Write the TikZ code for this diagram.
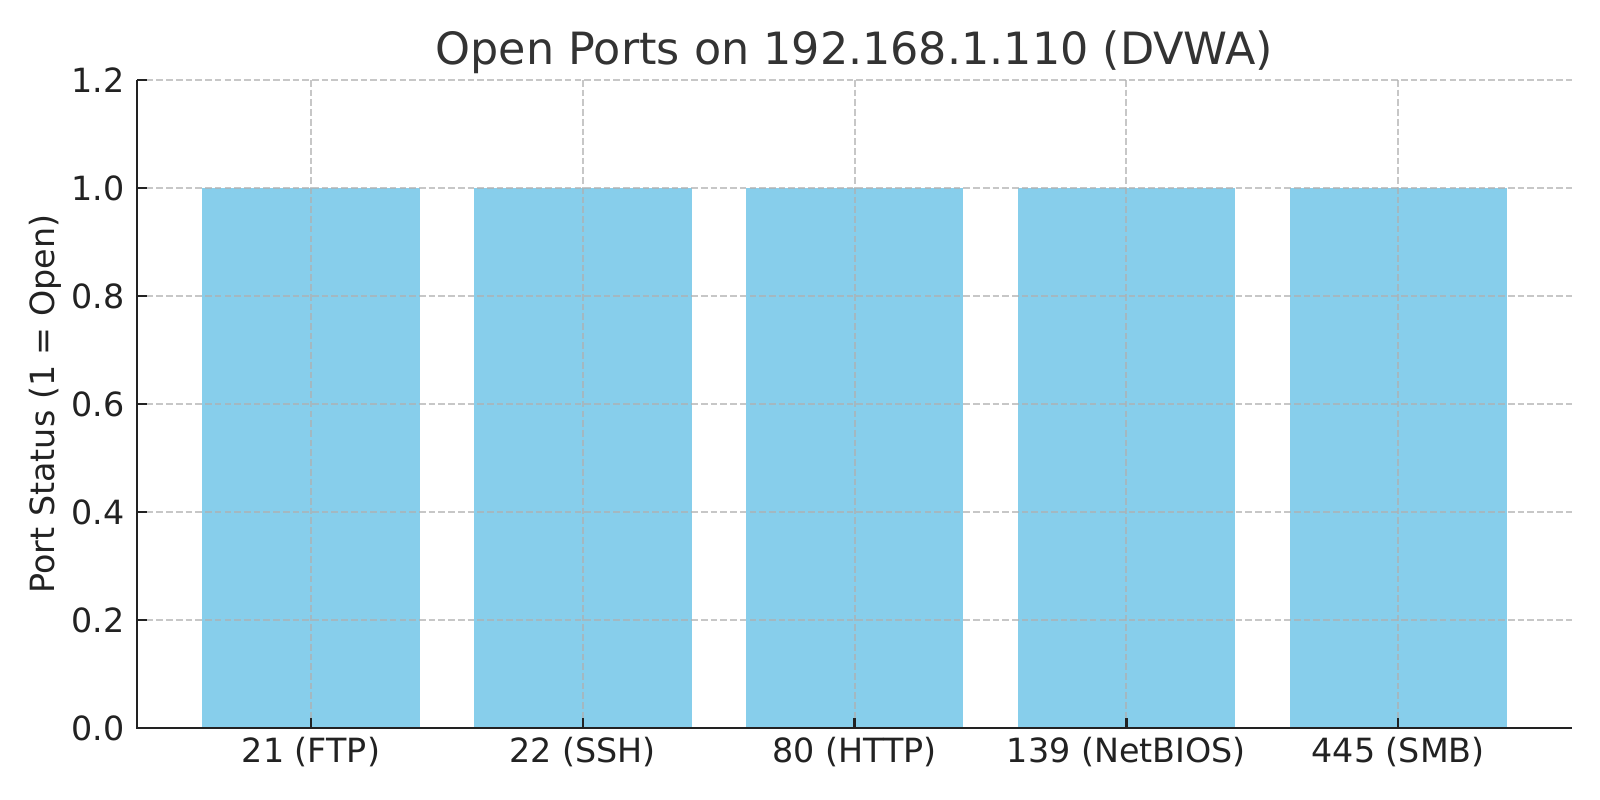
\documentclass[tikz,border=0pt]{standalone}
\usepackage{fontspec}
\setmainfont{DejaVu Sans}
\definecolor{barc}{HTML}{87CEEB}
\definecolor{ink}{HTML}{222222}
\definecolor{titlec}{HTML}{333333}
\definecolor{gridc}{HTML}{B0B0B0}
\begin{document}
\begin{tikzpicture}[x=0.36pt,y=-0.36pt,
  gridline/.style={gridc, opacity=0.7, line width=0.7pt, dash pattern=on 2.4pt off 1.1pt},
  spine/.style={ink, line width=1pt},
  tickmark/.style={ink, line width=0.8pt},
  ticklab/.style={text=ink, font=\fontsize{12}{14}\selectfont, inner sep=0pt},
  titlelab/.style={text=titlec, font=\fontsize{16}{19}\selectfont, inner sep=0pt},
  barrect/.style={fill=barc, draw=none}]
\fill[white] (0,0) rectangle (1600,800);
\useasboundingbox (0,0) rectangle (1600,800);
% bars
\foreach \c in {311,582.8,854.6,1126.4,1398.2}{
  \fill[barc] (\c-108.7,188) rectangle (\c+108.7,728);
}
% grid
\foreach \y in {80,188,296,404,512,620}{
  \draw[gridline] (137,\y) -- (1572,\y);
}
\foreach \c in {311,582.8,854.6,1126.4,1398.2}{
  \draw[gridline] (\c,80) -- (\c,728);
}
% ticks
\foreach \y in {80,188,296,404,512,620,728}{
  \draw[tickmark] (137,\y) -- (147,\y);
}
\foreach \c in {311,582.8,854.6,1126.4,1398.2}{
  \draw[tickmark] (\c,728) -- (\c,718);
}
% spines
\draw[spine] (137,80) -- (137,728) -- (1572,728);
% y tick labels
\node[ticklab, anchor=east] (y0) at (125,728) {0.0};
\node[ticklab, anchor=east] (y1) at (125,620) {0.2};
\node[ticklab, anchor=east] (y2) at (125,512) {0.4};
\node[ticklab, anchor=east] (y3) at (125,404) {0.6};
\node[ticklab, anchor=east] (y4) at (125,296) {0.8};
\node[ticklab, anchor=east] (y5) at (125,188) {1.0};
\node[ticklab, anchor=east] (y6) at (125,80) {1.2};
% x tick labels
\node[ticklab, anchor=base] (x0) at (311,763) {21 (FTP)};
\node[ticklab, anchor=base] (x1) at (582.8,763) {22 (SSH)};
\node[ticklab, anchor=base] (x2) at (854.6,763) {80 (HTTP)};
\node[ticklab, anchor=base] (x3) at (1126.4,763) {139 (NetBIOS)};
\node[ticklab, anchor=base] (x4) at (1398.2,763) {445 (SMB)};
% axis label
\node[ticklab, anchor=base, rotate=90] (ylab) at (55,404) {Port Status (1 = Open)};
% title
\node[titlelab, anchor=base] (title) at (854.5,65) {Open Ports on 192.168.1.110 (DVWA)};
\end{tikzpicture}
\end{document}
